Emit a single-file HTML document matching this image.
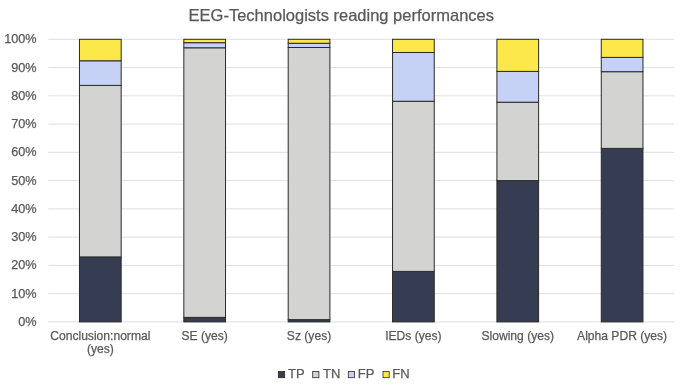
<!DOCTYPE html>
<html><head><meta charset="utf-8"><style>
html,body{margin:0;padding:0;background:#fff;}
body{width:685px;height:388px;overflow:hidden;position:relative;font-family:"Liberation Sans",sans-serif;}
svg{position:absolute;left:0;top:0;will-change:transform;}
text{font-family:"Liberation Sans",sans-serif;fill:#595959;stroke:#595959;stroke-width:0.25px;}
</style></head><body>
<svg width="685" height="388" viewBox="0 0 685 388">
<text x="341.3" y="20.9" font-size="16.5" text-anchor="middle">EEG-Technologists reading performances</text>
<line x1="48.3" x2="674.1" y1="321.90" y2="321.90" stroke="#dfdfdf" stroke-width="1"/>
<text x="36.6" y="325.90" font-size="12.7" text-anchor="end">0%</text>
<line x1="48.3" x2="674.1" y1="293.64" y2="293.64" stroke="#dfdfdf" stroke-width="1"/>
<text x="36.6" y="297.64" font-size="12.7" text-anchor="end">10%</text>
<line x1="48.3" x2="674.1" y1="265.38" y2="265.38" stroke="#dfdfdf" stroke-width="1"/>
<text x="36.6" y="269.38" font-size="12.7" text-anchor="end">20%</text>
<line x1="48.3" x2="674.1" y1="237.12" y2="237.12" stroke="#dfdfdf" stroke-width="1"/>
<text x="36.6" y="241.12" font-size="12.7" text-anchor="end">30%</text>
<line x1="48.3" x2="674.1" y1="208.86" y2="208.86" stroke="#dfdfdf" stroke-width="1"/>
<text x="36.6" y="212.86" font-size="12.7" text-anchor="end">40%</text>
<line x1="48.3" x2="674.1" y1="180.60" y2="180.60" stroke="#dfdfdf" stroke-width="1"/>
<text x="36.6" y="184.60" font-size="12.7" text-anchor="end">50%</text>
<line x1="48.3" x2="674.1" y1="152.34" y2="152.34" stroke="#dfdfdf" stroke-width="1"/>
<text x="36.6" y="156.34" font-size="12.7" text-anchor="end">60%</text>
<line x1="48.3" x2="674.1" y1="124.08" y2="124.08" stroke="#dfdfdf" stroke-width="1"/>
<text x="36.6" y="128.08" font-size="12.7" text-anchor="end">70%</text>
<line x1="48.3" x2="674.1" y1="95.82" y2="95.82" stroke="#dfdfdf" stroke-width="1"/>
<text x="36.6" y="99.82" font-size="12.7" text-anchor="end">80%</text>
<line x1="48.3" x2="674.1" y1="67.56" y2="67.56" stroke="#dfdfdf" stroke-width="1"/>
<text x="36.6" y="71.56" font-size="12.7" text-anchor="end">90%</text>
<line x1="48.3" x2="674.1" y1="39.30" y2="39.30" stroke="#dfdfdf" stroke-width="1"/>
<text x="36.6" y="43.30" font-size="12.7" text-anchor="end">100%</text>
<rect x="79.47" y="256.90" width="41.70" height="65.00" fill="#363c51" stroke="#2b2b26" stroke-width="1.0"/>
<rect x="79.47" y="85.36" width="41.70" height="171.54" fill="#d3d3d2" stroke="#2b2b26" stroke-width="1.0"/>
<rect x="79.47" y="60.78" width="41.70" height="24.59" fill="#c6d1f6" stroke="#2b2b26" stroke-width="1.0"/>
<rect x="79.47" y="39.30" width="41.70" height="21.48" fill="#fde84c" stroke="#2b2b26" stroke-width="1.0"/>
<rect x="183.83" y="317.38" width="41.70" height="4.52" fill="#363c51" stroke="#2b2b26" stroke-width="1.0"/>
<rect x="183.83" y="47.78" width="41.70" height="269.60" fill="#d3d3d2" stroke="#2b2b26" stroke-width="1.0"/>
<rect x="183.83" y="42.69" width="41.70" height="5.09" fill="#c6d1f6" stroke="#2b2b26" stroke-width="1.0"/>
<rect x="183.83" y="39.30" width="41.70" height="3.39" fill="#fde84c" stroke="#2b2b26" stroke-width="1.0"/>
<rect x="288.19" y="319.64" width="41.70" height="2.26" fill="#363c51" stroke="#2b2b26" stroke-width="1.0"/>
<rect x="288.19" y="47.50" width="41.70" height="272.14" fill="#d3d3d2" stroke="#2b2b26" stroke-width="1.0"/>
<rect x="288.19" y="43.26" width="41.70" height="4.24" fill="#c6d1f6" stroke="#2b2b26" stroke-width="1.0"/>
<rect x="288.19" y="39.30" width="41.70" height="3.96" fill="#fde84c" stroke="#2b2b26" stroke-width="1.0"/>
<rect x="392.55" y="271.40" width="41.70" height="50.50" fill="#363c51" stroke="#2b2b26" stroke-width="1.0"/>
<rect x="392.55" y="101.25" width="41.70" height="170.15" fill="#d3d3d2" stroke="#2b2b26" stroke-width="1.0"/>
<rect x="392.55" y="52.50" width="41.70" height="48.75" fill="#c6d1f6" stroke="#2b2b26" stroke-width="1.0"/>
<rect x="392.55" y="39.30" width="41.70" height="13.20" fill="#fde84c" stroke="#2b2b26" stroke-width="1.0"/>
<rect x="496.91" y="180.60" width="41.70" height="141.30" fill="#363c51" stroke="#2b2b26" stroke-width="1.0"/>
<rect x="496.91" y="102.21" width="41.70" height="78.39" fill="#d3d3d2" stroke="#2b2b26" stroke-width="1.0"/>
<rect x="496.91" y="71.40" width="41.70" height="30.80" fill="#c6d1f6" stroke="#2b2b26" stroke-width="1.0"/>
<rect x="496.91" y="39.30" width="41.70" height="32.10" fill="#fde84c" stroke="#2b2b26" stroke-width="1.0"/>
<rect x="601.27" y="148.38" width="41.70" height="173.52" fill="#363c51" stroke="#2b2b26" stroke-width="1.0"/>
<rect x="601.27" y="71.69" width="41.70" height="76.70" fill="#d3d3d2" stroke="#2b2b26" stroke-width="1.0"/>
<rect x="601.27" y="57.39" width="41.70" height="14.30" fill="#c6d1f6" stroke="#2b2b26" stroke-width="1.0"/>
<rect x="601.27" y="39.30" width="41.70" height="18.09" fill="#fde84c" stroke="#2b2b26" stroke-width="1.0"/>
<text x="100.32" y="340.3" font-size="12.1" text-anchor="middle">Conclusion:normal</text>
<text x="100.32" y="353.3" font-size="12.1" text-anchor="middle">(yes)</text>
<text x="204.68" y="340.3" font-size="12.1" text-anchor="middle">SE (yes)</text>
<text x="309.04" y="340.3" font-size="12.1" text-anchor="middle">Sz (yes)</text>
<text x="413.40" y="340.3" font-size="12.1" text-anchor="middle">IEDs (yes)</text>
<text x="517.76" y="340.3" font-size="12.1" text-anchor="middle">Slowing (yes)</text>
<text x="622.12" y="340.3" font-size="12.1" text-anchor="middle">Alpha PDR (yes)</text>
<rect x="278.50" y="371.5" width="6.2" height="6.2" fill="#363c51" stroke="#2b2b26" stroke-width="0.8"/>
<text x="288.1" y="377.9" font-size="13">TP</text>
<rect x="312.70" y="371.5" width="6.2" height="6.2" fill="#d3d3d2" stroke="#2b2b26" stroke-width="0.8"/>
<text x="323.1" y="377.9" font-size="13">TN</text>
<rect x="348.30" y="371.5" width="6.2" height="6.2" fill="#c6d1f6" stroke="#2b2b26" stroke-width="0.8"/>
<text x="357.8" y="377.9" font-size="13">FP</text>
<rect x="383.00" y="371.5" width="6.2" height="6.2" fill="#fde84c" stroke="#2b2b26" stroke-width="0.8"/>
<text x="392.3" y="377.9" font-size="13">FN</text>
</svg>
</body></html>
